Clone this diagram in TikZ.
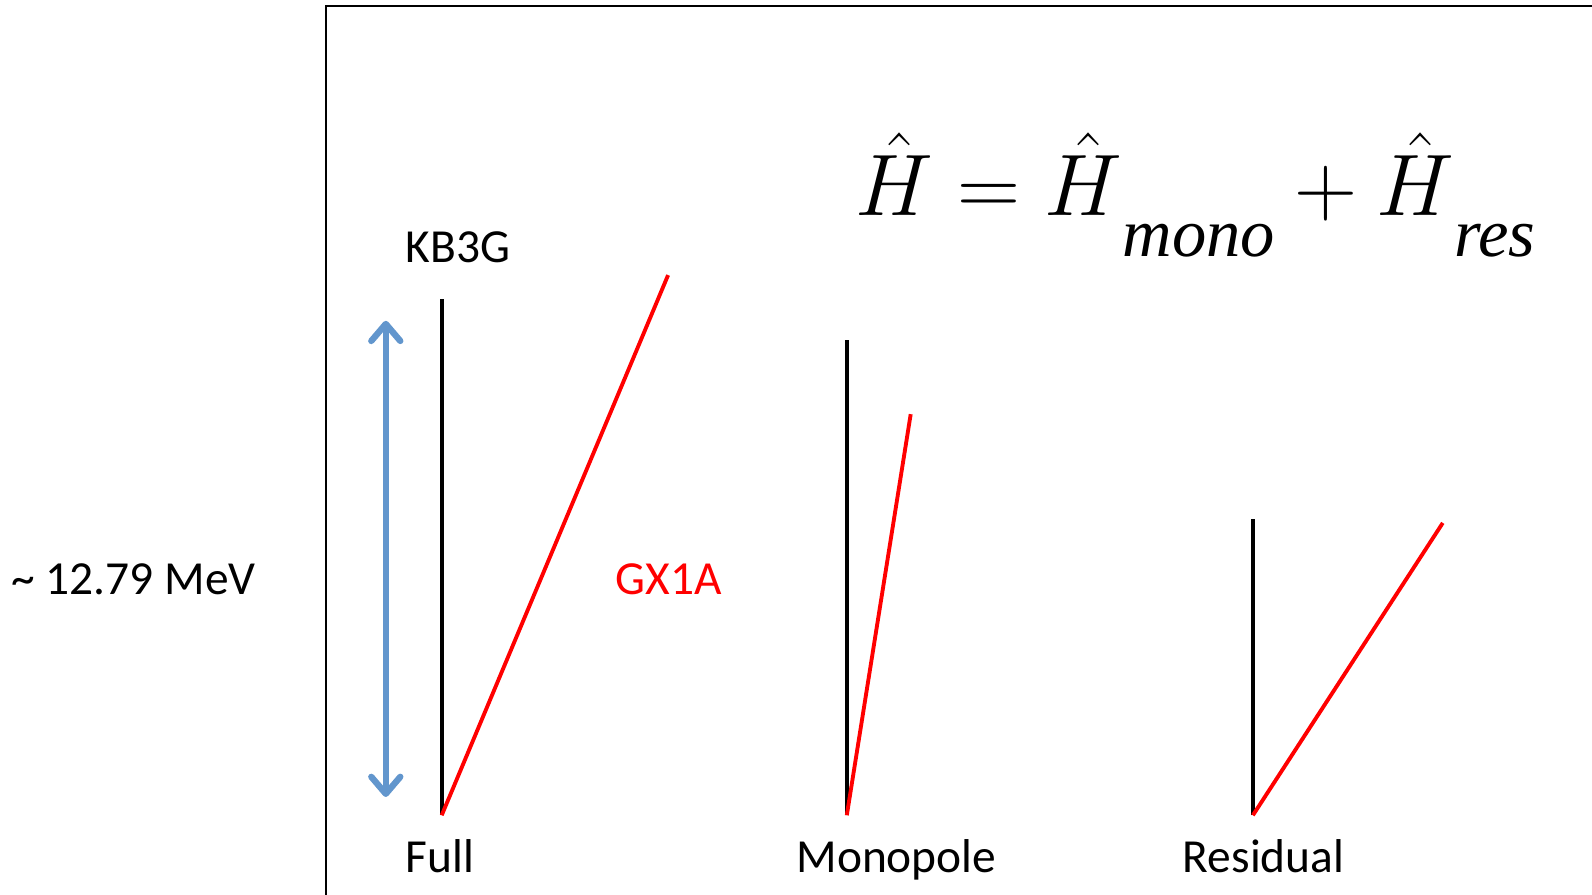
\documentclass[tikz,border=0pt]{standalone}
\usepackage[no-math]{fontspec}
\setmainfont{Carlito}
\newfontfamily\subfont{Liberation Serif}
\usepackage{amsmath}
\usetikzlibrary{arrows.meta}

\tikzset{
  lbl/.style={font=\fontsize{13.5}{16}\selectfont, inner sep=0pt},
  level/.style={line width=1.1pt, black},
  redline/.style={line width=1.1pt, red},
}
\newcommand{\lowsub}[1]{\mbox{\raisebox{-11.8pt}{\subfont\itshape\fontsize{19.5}{23}\selectfont #1}}}

\begin{document}
\begin{tikzpicture}[>=stealth]
\useasboundingbox (0,0) rectangle (15.92,8.95);

% Frame
\draw[line width=0.7pt] (3.26,-0.5) -- (3.26,8.89) -- (16.5,8.89);

% Full
\coordinate (fullbase) at (4.417,0.797);
\coordinate (fulltop) at (4.417,5.955);
\coordinate (fullred) at (6.681,6.199);
\draw[level] (fullbase) -- (fulltop);
\draw[redline] (fullbase) -- (fullred);

% Monopole
\coordinate (monobase) at (8.468,0.797);
\coordinate (monotop) at (8.468,5.549);
\coordinate (monored) at (9.107,4.808);
\draw[level] (monobase) -- (monotop);
\draw[redline] (monobase) -- (monored);

% Residual
\coordinate (resbase) at (12.529,0.797);
\coordinate (restop) at (12.529,3.762);
\coordinate (resred) at (14.428,3.721);
\draw[level] (resbase) -- (restop);
\draw[redline] (resbase) -- (resred);

% Gap arrow
\definecolor{gapblue}{RGB}{98,150,205}
\coordinate (gaptop) at (3.858,5.742);
\coordinate (gapbot) at (3.858,0.98);
\draw[{Straight Barb[round,length=1.7mm,width=2.9mm]}-{Straight Barb[round,length=1.7mm,width=2.9mm]}, line width=1.8pt, gapblue] (gapbot) -- (gaptop);

% Labels
\node[lbl] (kb3g) at (4.58,6.48) {KB3G};
\node[lbl, red] (gx1a) at (6.686,3.153) {GX1A};
\node[lbl] (gap) at (1.335,3.153) {\textasciitilde{} 12.79 MeV};
\node[lbl, anchor=base] (full) at (4.40,0.22) {Full};
\node[lbl, anchor=base] (mono) at (8.965,0.22) {Monopole};
\node[lbl, anchor=base] (res) at (12.636,0.22) {Residual};

% Hamiltonian
\node[anchor=base west, inner sep=0pt, font=\fontsize{29}{34}\selectfont] (ham) at (8.55,6.797)
  {$\hat{H}=\hat{H}\lowsub{mono}+\hat{H}\lowsub{res}$};

\end{tikzpicture}
\end{document}
